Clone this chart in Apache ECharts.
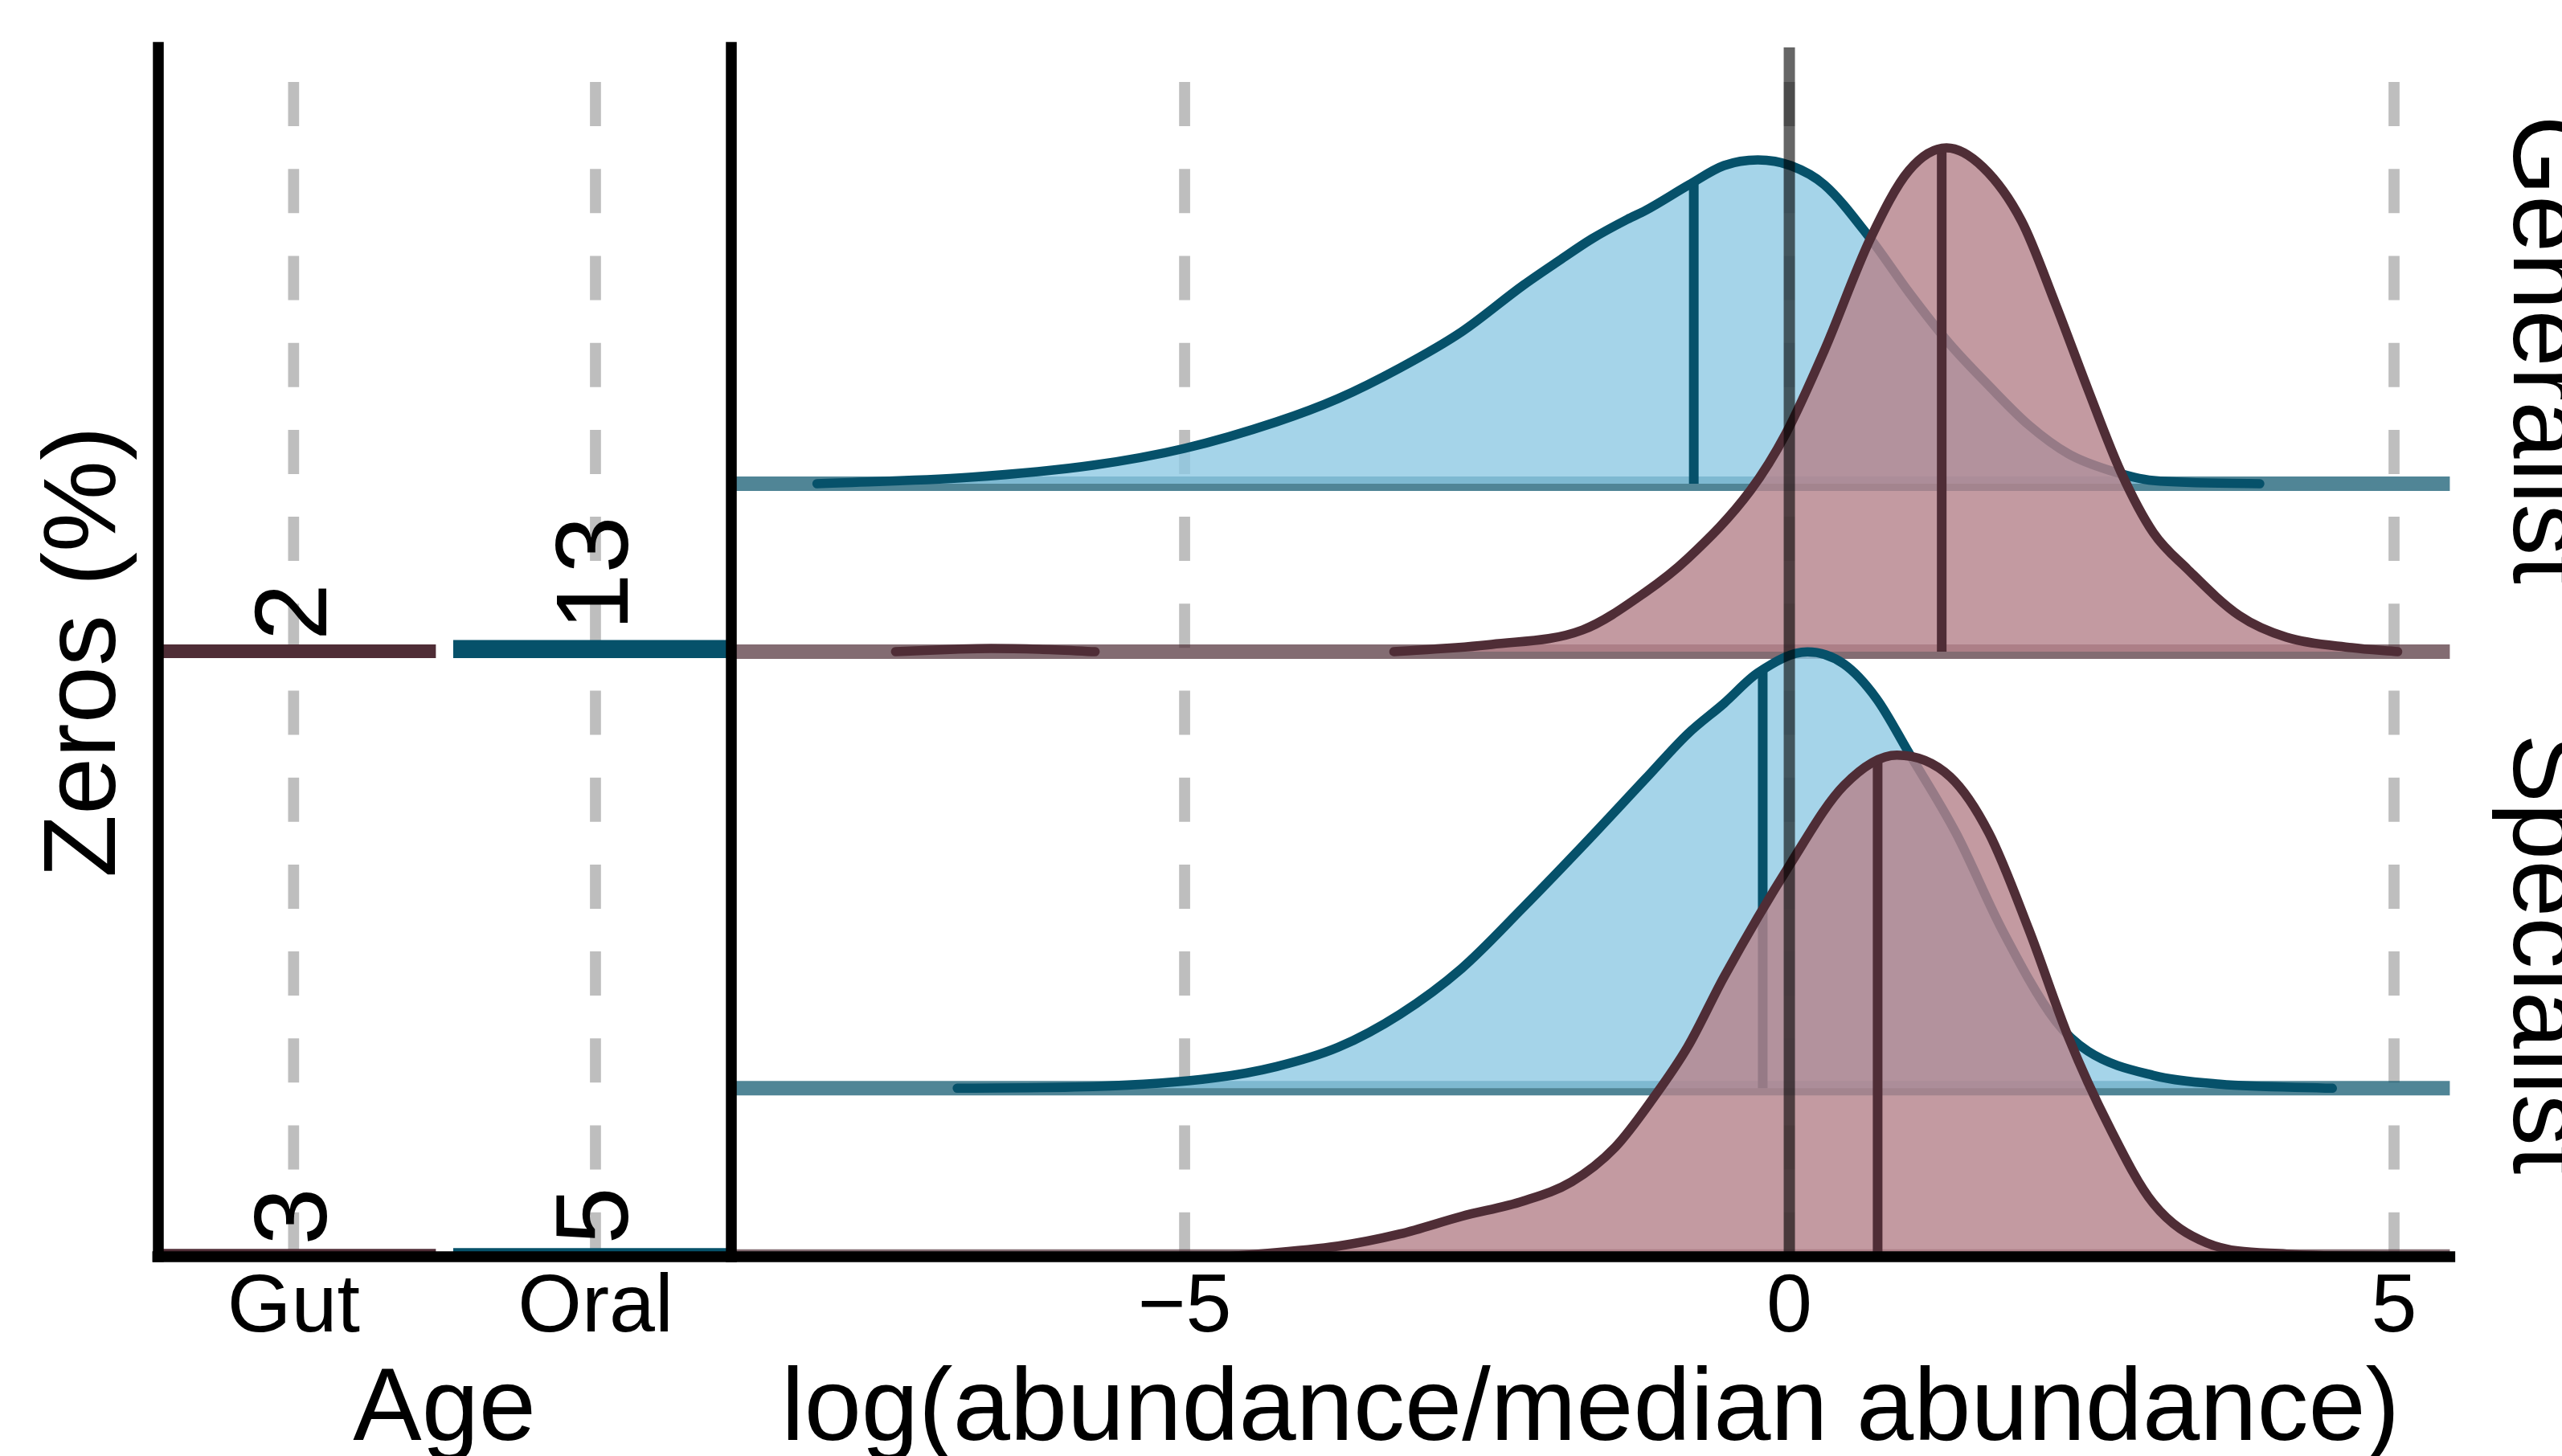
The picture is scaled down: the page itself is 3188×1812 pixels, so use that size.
<!DOCTYPE html>
<html>
<head>
<meta charset="utf-8">
<script src="https://cdn.jsdelivr.net/npm/echarts@6/dist/echarts.min.js"></script>
<style>
html,body{margin:0;padding:0;background:#ffffff;}
#chart{width:3188px;height:1812px;}
</style>
</head>
<body>
<div id="chart"></div>
<script>
// ===================== DATA =====================
const facets = ['Generalist', 'Specialist'];
const sites = ['Gut', 'Oral'];
// Zeros (%) per facet [Generalist, Specialist]
const zerosGut = [2, 3];
const zerosOral = [13, 5];
// x axis ticks of the density panel
const xTickValues = [-5, 0, 5];
const referenceX = 0;

// density curves: x = log(abundance/median abundance), d = ridge height
const genOralX = [-8.04, -6.78, -5.76, -5.00, -4.24, -3.73, -3.22, -2.71, -2.20, -1.90, -1.63, -1.34, -1.19, -0.83, -0.54, -0.26, 0.01, 0.29, 0.67, 0.99, 1.32, 1.65, 1.98, 2.31, 2.64, 3.01, 3.89];
const genOralD = [0.00, 0.08, 0.23, 0.44, 0.77, 1.06, 1.44, 1.89, 2.47, 2.78, 3.05, 3.29, 3.40, 3.72, 3.96, 4.03, 3.96, 3.72, 3.05, 2.38, 1.75, 1.22, 0.73, 0.37, 0.17, 0.04, 0.00];

const genGutTailX = [-7.39, -6.90, -6.60, -6.20, -5.74];
const genGutTailD = [0.00, 0.03, 0.04, 0.03, 0.00];
const genGutX = [-3.27, -2.46, -1.71, -1.19, -0.84, -0.32, -0.03, 0.29, 0.67, 0.99, 1.30, 1.60, 1.92, 2.20, 2.47, 2.74, 3.01, 3.29, 3.72, 4.11, 4.65, 5.03];
const genGutD = [0.00, 0.09, 0.27, 0.74, 1.16, 2.01, 2.71, 3.75, 5.14, 5.99, 6.27, 6.03, 5.36, 4.33, 3.26, 2.24, 1.48, 1.03, 0.45, 0.18, 0.05, 0.00];

const specOralX = [-6.88, -5.76, -4.75, -4.24, -3.73, -3.22, -2.71, -2.20, -1.70, -1.19, -0.84, -0.54, -0.26, 0.15, 0.45, 0.72, 0.99, 1.38, 1.76, 2.20, 2.47, 3.01, 3.56, 4.49];
const specOralD = [0.00, 0.02, 0.13, 0.27, 0.51, 0.92, 1.49, 2.25, 3.03, 3.85, 4.41, 4.79, 5.17, 5.43, 5.28, 4.85, 4.17, 3.17, 1.97, 0.84, 0.46, 0.16, 0.05, 0.00];

const specGutX = [-4.63, -3.73, -3.22, -2.71, -2.20, -1.80, -1.44, -1.13, -0.84, -0.54, 0.01, 0.45, 0.89, 1.33, 1.65, 1.98, 2.31, 2.64, 3.01, 3.45, 4.11, 4.93];
const specGutD = [0.00, 0.13, 0.28, 0.50, 0.69, 0.93, 1.36, 1.96, 2.61, 3.48, 4.89, 5.86, 6.24, 5.97, 5.27, 4.07, 2.72, 1.63, 0.66, 0.17, 0.03, 0.00];

// medians (quantile lines): [Generalist Oral, Generalist Gut, Specialist Oral, Specialist Gut]
const medianX = [-0.79, 1.26, -0.22, 0.73];

// ===================== LAYOUT & STYLE =====================
const FONT = 'Liberation Sans';
const BLUE = '#06516a';
const MAROON = '#4f2d36';
const BLUE_BASE = 'rgba(6,81,106,0.7)';
const MAROON_BASE = 'rgba(79,45,54,0.7)';
const BLUE_FILL = 'rgba(139,200,227,0.775)';
const MAROON_FILL = 'rgba(182,132,140,0.82)';
const GRID_GRAY = '#bebebe';
const AX_W = 13.5;

const L = {
  leftGrid: {left: 196.3, top: 59, width: 713.7, height: 1504.7},
  mainGrid: {left: 910, top: 59, width: 2138.4, height: 1504.7},
  xMin: -8.748, xMax: 5.461, yMax: 15.047,
  catMin: 0.55, catMax: 2.45, barHalf: 0.45,
  zerosYMax: 3009.4,
  zerosBase: [1505.4, 0],             // Generalist, Specialist (in % units of left axis)
  rowBase: [9.617, 7.527, 2.094, 0],  // GenOral, GenGut, SpecOral, SpecGut
  curveW: 11.5, medianW: 12, baseW: 18, dashW: 13.7, dash: [55, 53.2], refW: 14,
  barStroke: 16, labelShift: 5
};

const ridges = [
  {segs: [[genOralX, genOralD]], base: L.rowBase[0], median: medianX[0], line: BLUE, baseCol: BLUE_BASE, fill: BLUE_FILL},
  {segs: [[genGutTailX, genGutTailD], [genGutX, genGutD]], base: L.rowBase[1], median: medianX[1], line: MAROON, baseCol: MAROON_BASE, fill: MAROON_FILL},
  {segs: [[specOralX, specOralD]], base: L.rowBase[2], median: medianX[2], line: BLUE, baseCol: BLUE_BASE, fill: BLUE_FILL},
  {segs: [[specGutX, specGutD]], base: L.rowBase[3], median: medianX[3], line: MAROON, baseCol: MAROON_BASE, fill: MAROON_FILL}
];

// monotone cubic tangents (Fritsch-Carlson) for smooth drawing of the read points
function tangents(xs, ys) {
  const n = xs.length, d = [], m = new Array(n);
  for (let i = 0; i < n - 1; i++) d[i] = (ys[i + 1] - ys[i]) / (xs[i + 1] - xs[i]);
  m[0] = d[0]; m[n - 1] = d[n - 2];
  for (let i = 1; i < n - 1; i++) m[i] = (d[i - 1] * d[i] <= 0) ? 0 : (d[i - 1] + d[i]) / 2;
  for (let i = 0; i < n - 1; i++) {
    if (d[i] === 0) { m[i] = 0; m[i + 1] = 0; continue; }
    const a = m[i] / d[i], b = m[i + 1] / d[i], s = a * a + b * b;
    if (s > 9) { const t = 3 / Math.sqrt(s); m[i] = t * a * d[i]; m[i + 1] = t * b * d[i]; }
  }
  return m;
}
function evalCurve(xs, ys, m, x) {
  for (let i = 0; i < xs.length - 1; i++) {
    if (x >= xs[i] && x <= xs[i + 1]) {
      const h = xs[i + 1] - xs[i], t = (x - xs[i]) / h;
      const t2 = t * t, t3 = t2 * t;
      return (2 * t3 - 3 * t2 + 1) * ys[i] + (t3 - 2 * t2 + t) * h * m[i] +
             (-2 * t3 + 3 * t2) * ys[i + 1] + (t3 - t2) * h * m[i + 1];
    }
  }
  return null;
}
const f = v => v.toFixed(2);

function ridgeRenderer(r) {
  return function (params, api) {
    const children = [];
    const p0 = api.coord([L.xMin, r.base]), p1 = api.coord([L.xMax, r.base]);
    children.push({type: 'line', shape: {x1: p0[0], y1: p0[1], x2: p1[0], y2: p1[1]},
      style: {stroke: r.baseCol, lineWidth: L.baseW, lineCap: 'butt'}});
    const strokes = [];
    let medianTop = null;
    r.segs.forEach(function (seg) {
      const xs = seg[0], ds = seg[1], n = xs.length;
      const m = tangents(xs, ds);
      const P = (x, y) => api.coord([x, r.base + y]);
      const s = P(xs[0], ds[0]);
      let d = 'M' + f(s[0]) + ' ' + f(s[1]);
      for (let i = 0; i < n - 1; i++) {
        const h = xs[i + 1] - xs[i];
        const c1 = P(xs[i] + h / 3, ds[i] + m[i] * h / 3);
        const c2 = P(xs[i + 1] - h / 3, ds[i + 1] - m[i + 1] * h / 3);
        const e = P(xs[i + 1], ds[i + 1]);
        d += ' C' + f(c1[0]) + ' ' + f(c1[1]) + ' ' + f(c2[0]) + ' ' + f(c2[1]) + ' ' + f(e[0]) + ' ' + f(e[1]);
      }
      const b0 = P(xs[n - 1], 0), b1 = P(xs[0], 0);
      children.push({type: 'path', shape: {pathData: d + ' L' + f(b0[0]) + ' ' + f(b0[1]) + ' L' + f(b1[0]) + ' ' + f(b1[1]) + ' Z'},
        style: {fill: r.fill, stroke: 'none'}});
      strokes.push({type: 'path', shape: {pathData: d},
        style: {fill: 'none', stroke: r.line, lineWidth: L.curveW, lineCap: 'round', lineJoin: 'round'}});
      const v = evalCurve(xs, ds, m, r.median);
      if (v !== null) medianTop = v;
    });
    if (medianTop !== null) {
      const a = api.coord([r.median, r.base]), b = api.coord([r.median, r.base + medianTop]);
      children.push({type: 'line', shape: {x1: a[0], y1: a[1], x2: b[0], y2: b[1]},
        style: {stroke: r.line, lineWidth: L.medianW, lineCap: 'butt'}});
    }
    strokes.forEach(s => children.push(s));
    return {type: 'group', children: children};
  };
}

const series = [];
// dashed vertical grid lines, main panel
series.push({
  type: 'custom', xAxisIndex: 1, yAxisIndex: 1, z: 1, silent: true,
  data: xTickValues.map(v => [v, 0]),
  renderItem: function (params, api) {
    const v = api.value(0);
    const a = api.coord([v, 0]), b = api.coord([v, L.yMax]);
    return {type: 'line', shape: {x1: a[0], y1: a[1], x2: b[0], y2: b[1]},
      style: {stroke: GRID_GRAY, lineWidth: L.dashW, lineDash: L.dash, lineCap: 'butt'}};
  }
});
// dashed vertical grid lines, left panel
series.push({
  type: 'custom', xAxisIndex: 0, yAxisIndex: 0, z: 1, silent: true,
  data: sites.map((s, i) => [i + 1, 0]),
  renderItem: function (params, api) {
    const v = api.value(0);
    const a = api.coord([v, 0]), b = api.coord([v, L.zerosYMax]);
    return {type: 'line', shape: {x1: a[0], y1: a[1], x2: b[0], y2: b[1]},
      style: {stroke: GRID_GRAY, lineWidth: L.dashW, lineDash: L.dash, lineCap: 'butt'}};
  }
});
// ridges (top to bottom drawing order)
ridges.forEach(function (r, i) {
  series.push({
    type: 'custom', xAxisIndex: 1, yAxisIndex: 1, z: 2 + i, silent: true, clip: true,
    data: [[r.median, r.base]],
    renderItem: ridgeRenderer(r)
  });
});
// reference line at 0
series.push({
  type: 'custom', xAxisIndex: 1, yAxisIndex: 1, z: 7, silent: true,
  data: [[referenceX, 0]],
  renderItem: function (params, api) {
    const a = api.coord([referenceX, 0]), b = api.coord([referenceX, L.yMax]);
    return {type: 'line', shape: {x1: a[0], y1: a[1], x2: b[0], y2: b[1]},
      style: {stroke: 'rgba(0,0,0,0.6)', lineWidth: L.refW, lineCap: 'butt'}};
  }
});
// zero-percent bars
const barItems = [];
facets.forEach((fc, fi) => {
  barItems.push([1, zerosGut[fi], fi]);
  barItems.push([2, zerosOral[fi], fi]);
});
series.push({
  type: 'custom', xAxisIndex: 0, yAxisIndex: 0, z: 2, silent: true, clip: true,
  data: barItems,
  renderItem: function (params, api) {
    const cat = api.value(0), pct = api.value(1), fi = api.value(2);
    const base = L.zerosBase[fi];
    const a = api.coord([cat - L.barHalf, base + pct]), b = api.coord([cat + L.barHalf, base]);
    const col = cat === 1 ? MAROON : BLUE;
    return {type: 'rect', shape: {x: a[0], y: a[1], width: b[0] - a[0], height: b[1] - a[1]},
      style: {fill: col, stroke: col, lineWidth: L.barStroke, lineJoin: 'miter'}};
  }
});
// zero-percent labels
series.push({
  type: 'custom', xAxisIndex: 0, yAxisIndex: 0, z: 3, silent: true,
  data: barItems,
  renderItem: function (params, api) {
    const cat = api.value(0), pct = api.value(1), fi = api.value(2);
    const base = L.zerosBase[fi];
    const top = api.coord([cat, base + pct]);
    const txt = String(pct);
    const w = txt.length * 0.556 * 128;
    return {type: 'text', x: top[0] + L.labelShift, y: top[1] - 5.6 - 0.1 * w, rotation: Math.PI / 2,
      style: {text: txt, fontSize: 128, fontFamily: FONT, fill: '#000', align: 'left', verticalAlign: 'middle'}};
  }
});

const axisLineStyle = {color: '#000', width: AX_W, cap: 'square'};
const minus = v => (v < 0 ? '\u2212' + Math.abs(v) : String(v));

const option = {
  animation: false,
  backgroundColor: '#ffffff',
  textStyle: {fontFamily: FONT},
  grid: [
    {left: L.leftGrid.left, top: L.leftGrid.top, width: L.leftGrid.width, height: L.leftGrid.height,
     containLabel: false, outerBoundsMode: 'none'},
    {left: L.mainGrid.left, top: L.mainGrid.top, width: L.mainGrid.width, height: L.mainGrid.height,
     containLabel: false, outerBoundsMode: 'none'}
  ],
  xAxis: [
    {gridIndex: 0, type: 'value', min: L.catMin, max: L.catMax, z: 10,
     axisLine: {show: true, onZero: false, lineStyle: axisLineStyle},
     axisTick: {show: false}, splitLine: {show: false},
     axisLabel: {customValues: sites.map((s, i) => i + 1), formatter: v => sites[Math.round(v) - 1],
                 fontSize: 102.4, color: '#000', margin: 14, fontFamily: FONT},
     name: 'Age', nameLocation: 'middle', nameGap: 129,
     nameTextStyle: {fontSize: 128, color: '#000', fontFamily: FONT}},
    {gridIndex: 1, type: 'value', min: L.xMin, max: L.xMax, z: 10,
     axisLine: {show: true, onZero: false, lineStyle: axisLineStyle},
     axisTick: {show: false}, splitLine: {show: false},
     axisLabel: {customValues: xTickValues, formatter: minus,
                 fontSize: 102.4, color: '#000', margin: 14, fontFamily: FONT},
     name: 'log(abundance/median abundance)', nameLocation: 'middle', nameGap: 129,
     nameTextStyle: {fontSize: 128, color: '#000', fontFamily: FONT}}
  ],
  yAxis: [
    {gridIndex: 0, type: 'value', min: 0, max: L.zerosYMax, z: 10,
     axisLine: {show: true, onZero: false, lineStyle: axisLineStyle},
     axisTick: {show: false}, splitLine: {show: false}, axisLabel: {show: false},
     name: 'Zeros (%)', nameLocation: 'middle', nameGap: 25,
     nameTextStyle: {fontSize: 128, color: '#000', fontFamily: FONT}},
    {gridIndex: 1, type: 'value', min: 0, max: L.yMax, z: 10,
     axisLine: {show: true, onZero: false, lineStyle: axisLineStyle},
     axisTick: {show: false}, splitLine: {show: false}, axisLabel: {show: false}},
    {gridIndex: 1, type: 'category', position: 'right', data: facets.slice().reverse(), z: 10,
     axisLine: {show: false}, axisTick: {show: false}, splitLine: {show: false},
     axisLabel: {rotate: -90, interval: 0, hideOverlap: false, fontSize: 128, color: '#000', margin: 51, fontFamily: FONT}}
  ],
  series: series
};

const chart = echarts.init(document.getElementById('chart'), null, {renderer: 'canvas', width: 3188, height: 1812});
chart.setOption(option);
</script>
</body>
</html>
